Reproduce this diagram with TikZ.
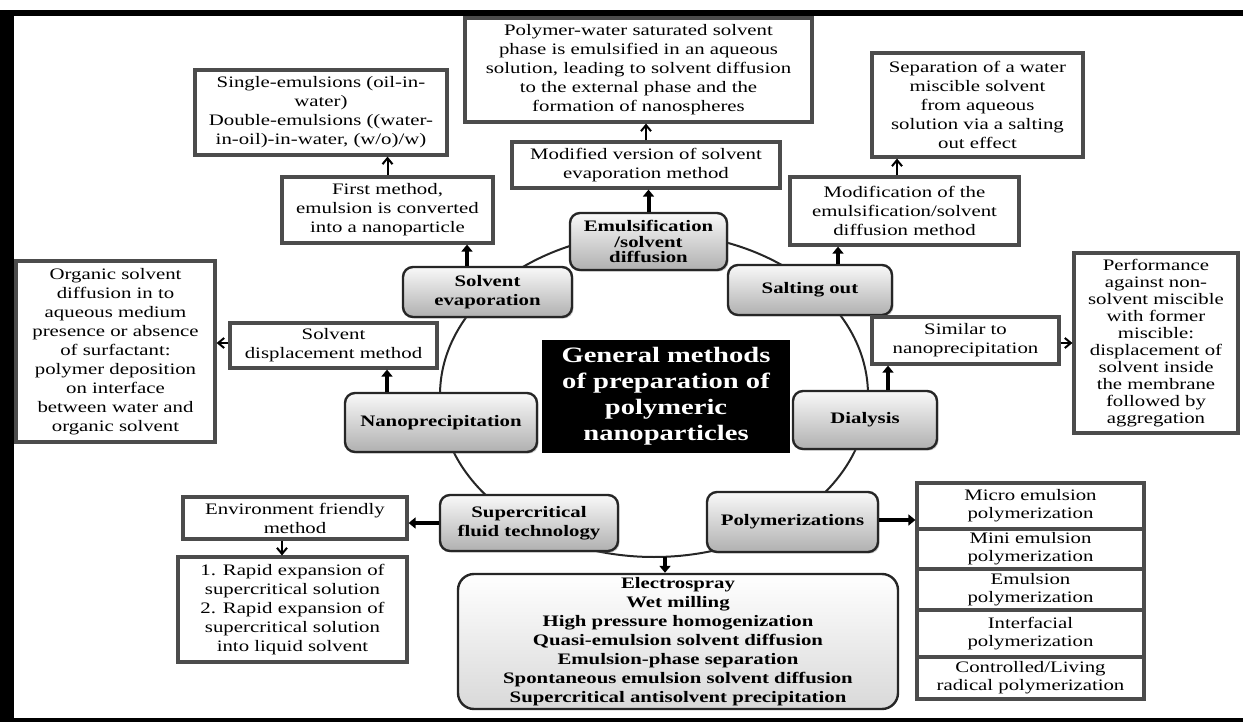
\documentclass[tikz,border=0pt]{standalone}
\usepackage{fontspec}
\setmainfont{Liberation Serif}[FakeStretch=1.3]
\usetikzlibrary{arrows.meta,shadows}
\begin{document}
\begin{tikzpicture}[x=0.5pt,y=-0.5pt]

	\tikzstyle{caja} = [rectangle,draw=black!70,line width=1.6pt,fill=white,align=center,inner sep=1pt,font=\fontsize{8}{9.5}\selectfont]
	\tikzstyle{metodo} = [rectangle,rounded corners=5pt,draw=black!85,line width=1.2pt,top color=gray!5,bottom color=gray!62,align=center,inner sep=1pt,font=\bfseries\fontsize{8}{9.5}\selectfont,drop shadow={shadow xshift=0.8pt,shadow yshift=-0.8pt,opacity=0.35}]
	\tikzstyle{grande} = [rectangle,rounded corners=8pt,draw=black!85,line width=1.2pt,top color=white,bottom color=gray!30,align=center,inner sep=1pt,font=\bfseries\fontsize{8}{9.5}\selectfont]
	\tikzstyle{titulo} = [rectangle,fill=black,text=white,align=center,font=\bfseries\fontsize{11}{13}\selectfont]
	\tikzstyle{flecha} = [-{Triangle[length=3.5pt,width=5.5pt]},line width=2pt]
	\tikzstyle{flechita} = [-{Straight Barb[length=3pt,width=5pt,line width=1pt]},line width=1pt]

	\useasboundingbox (0,0) rectangle (1243,722);
	\fill (0,10) rectangle (1243,16);
	\fill (0,10) rectangle (14,722);
	\fill (0,718) rectangle (1243,722);

	\draw[line width=1pt,black!85] (654,395) ellipse [x radius=214,y radius=162];
	\coordinate (abajo) at (665,557);

	\node[titulo,minimum width=124pt,minimum height=56.5pt] (gen) at (666,396.5) {General methods\\of preparation of\\polymeric\\nanoparticles};

	\node[metodo,minimum width=78.5pt,minimum height=28.5pt,font=\bfseries\fontsize{8}{7.8}\selectfont] (emuls) at (648.5,241.5) {Emulsification\\/solvent\\diffusion};
	\node[metodo,minimum width=84.5pt,minimum height=25pt] (sevap) at (487.5,292) {Solvent\\evaporation};
	\node[metodo,minimum width=82pt,minimum height=25pt] (salting) at (810,290) {Salting out};
	\node[metodo,minimum width=96pt,minimum height=29.5pt] (nanop) at (441,422.5) {Nanoprecipitation};
	\node[metodo,minimum width=72pt,minimum height=29pt] (dial) at (865,420) {Dialysis};
	\node[metodo,minimum width=89pt,minimum height=28pt] (superc) at (529,523) {Supercritical\\fluid technology};
	\node[metodo,minimum width=85.5pt,minimum height=30pt] (polym) at (792.5,522) {Polymerizations};
	\node[grande,minimum width=220pt,minimum height=67.5pt] (otros) at (678,641.5) {Electrospray\\Wet milling\\High pressure homogenization\\Quasi-emulsion solvent diffusion\\Emulsion-phase separation\\Spontaneous emulsion solvent diffusion\\Supercritical antisolvent precipitation};

	\node[caja,minimum width=126pt,minimum height=42.5pt] (single) at (321,112.5) {Single-emulsions (oil-in-\\water)\\Double-emulsions ((water-\\in-oil)-in-water, (w/o)/w)};
	\node[caja,minimum width=105.5pt,minimum height=33pt] (firstm) at (387.5,210) {First method,\\emulsion is converted\\into a nanoparticle};
	\node[caja,minimum width=173.5pt,minimum height=52pt] (polyw) at (638.5,70) {Polymer-water saturated solvent\\phase is emulsified in an aqueous\\solution, leading to solvent diffusion\\to the external phase and the\\formation of nanospheres};
	\node[caja,minimum width=134pt,minimum height=23pt] (modif) at (646,165) {Modified version of solvent\\evaporation method};
	\node[caja,minimum width=105.5pt,minimum height=52pt] (separ) at (977.5,105) {Separation of a water\\miscible solvent\\from aqueous\\solution via a salting\\out effect};
	\node[caja,minimum width=114.5pt,minimum height=34pt] (modifem) at (904.5,211) {Modification of the\\emulsification/solvent\\diffusion method};
	\node[caja,minimum width=99.5pt,minimum height=90.5pt] (organic) at (115.5,351.5) {Organic solvent\\diffusion in to\\aqueous medium\\presence or absence\\of surfactant:\\polymer deposition\\on interface\\between water and\\organic solvent};
	\node[caja,minimum width=103.5pt,minimum height=22.5pt] (displ) at (333.5,345.5) {Solvent\\displacement method};
	\node[caja,minimum width=93.5pt,minimum height=23.5pt] (similar) at (965.5,340.5) {Similar to\\nanoprecipitation};
	\node[caja,minimum width=82pt,minimum height=90pt,font=\fontsize{8}{8.5}\selectfont] (perform) at (1156,343) {Performance\\against non-\\solvent miscible\\with former\\miscible:\\displacement of\\solvent inside\\the membrane\\followed by\\aggregation};
	\node[caja,minimum width=112pt,minimum height=21pt] (envir) at (295,518) {Environment friendly\\method};
	\node[caja,minimum width=114.5pt,minimum height=52.5pt] (rapid) at (292.5,609.5) {1. Rapid expansion of\\supercritical solution\\2. Rapid expansion of\\supercritical solution\\into liquid solvent};

	\node[caja,minimum width=113.5pt,minimum height=23pt,font=\fontsize{8}{9}\selectfont] (poly1) at (1030.5,506) {Micro emulsion\\polymerization};
	\node[caja,minimum width=113.5pt,minimum height=20pt,font=\fontsize{8}{9}\selectfont] (poly2) at (1030.5,549) {Mini emulsion\\polymerization};
	\node[caja,minimum width=113.5pt,minimum height=20.5pt,font=\fontsize{8}{9}\selectfont] (poly3) at (1030.5,589.5) {Emulsion\\polymerization};
	\node[caja,minimum width=113.5pt,minimum height=23.5pt,font=\fontsize{8}{9}\selectfont] (poly4) at (1030.5,633.5) {Interfacial\\polymerization};
	\node[caja,minimum width=113.5pt,minimum height=21pt,font=\fontsize{8}{9}\selectfont] (poly5) at (1030.5,678) {Controlled/Living\\radical polymerization};

	\draw[flecha] ([xshift=-10.25pt]sevap.north) -- ([xshift=39.75pt]firstm.south);
	\draw[flechita] (firstm.north) -- ([xshift=33.25pt]single.south);
	\draw[flecha] (emuls.north) -- ([xshift=1.25pt]modif.south);
	\draw[flechita] (modif.north) -- ([xshift=3.75pt]polyw.south);
	\draw[flecha] ([xshift=14pt]salting.north) -- ([xshift=-33.25pt]modifem.south);
	\draw[flechita] ([xshift=-3.75pt]modifem.north) -- ([xshift=-40.25pt]separ.south);
	\draw[flecha] ([xshift=-27pt]nanop.north) -- ([xshift=26.75pt]displ.south);
	\draw[flechita] ([yshift=1.25pt]displ.west) -- ([yshift=4.25pt]organic.east);
	\draw[flecha] ([xshift=11.5pt]dial.north) -- ([xshift=-38.75pt]similar.south);
	\draw[flechita] ([yshift=-1.25pt]similar.east) -- (perform.west);
	\draw[flecha] (superc.west) -- ([yshift=-2.5pt]envir.east);
	\draw[flechita] ([xshift=-6.5pt]envir.south) -- ([xshift=-5.25pt]rapid.north);
	\draw[flecha] ([yshift=1pt]polym.east) -- ([yshift=-7pt]poly1.west);
	\draw[flecha] (abajo) -- ([xshift=-6.5pt]otros.north);

\end{tikzpicture}
\end{document}
